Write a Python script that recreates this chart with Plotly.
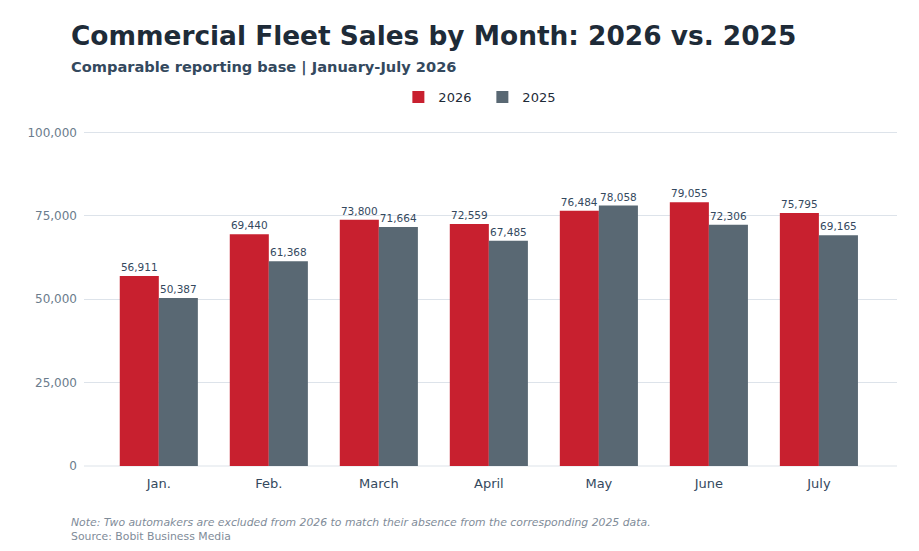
import plotly.graph_objects as go

months = ["Jan.", "Feb.", "March", "April", "May", "June", "July"]
sales_2026 = [56911, 69440, 73800, 72559, 76484, 79055, 75795]
sales_2025 = [50387, 61368, 71664, 67485, 78058, 72306, 69165]

RED = "#C8202F"
GRAY = "#596873"
FONT = "DejaVu Sans"

fig = go.Figure()
for name, vals, color in [("2026", sales_2026, RED), ("2025", sales_2025, GRAY)]:
    fig.add_trace(go.Bar(
        x=months, y=vals, name=name, marker=dict(color=color, line=dict(width=0)),
        text=[f"{v:,}" for v in vals], textposition="outside",
        textfont=dict(size=10.5, color="#34495e", family=FONT),
        cliponaxis=False,
    ))

fig.update_layout(
    width=919, height=551,
    font=dict(family=FONT, color="#2c3e50"),
    paper_bgcolor="white", plot_bgcolor="white",
    margin=dict(l=76, r=30, t=121, b=93, autoexpand=False),
    barmode="group", bargap=0.29, bargroupgap=0,
    legend=dict(orientation="h", x=0.490, xanchor="center", y=1 + (121 - 89) / 337,
                yanchor="middle", font=dict(size=13, color="#1e2b38"), entrywidth=39),
    xaxis=dict(range=[-0.68, 6.71], tickfont=dict(size=13, color="#34495e"),
               showline=False, automargin=False, ticklabelstandoff=8),
    yaxis=dict(range=[0, 101000], tickvals=[0, 25000, 50000, 75000, 100000],
               tickformat=",", tickfont=dict(size=12, color="#6b7c8c"),
               gridcolor="#dde3ea", zeroline=True, zerolinecolor="#eef1f4",
               ticklabelstandoff=6, automargin=False),
    title=dict(text="<b>Commercial Fleet Sales by Month: 2026 vs. 2025</b>",
               x=63 / 919, xanchor="left", y=1 - 28 / 551, yanchor="middle",
               font=dict(size=26.4, color="#1e2b38")),
)
fig.add_annotation(text="<b>Comparable reporting base | January-July 2026</b>",
                   xref="paper", yref="paper", x=-15 / 813, xanchor="left",
                   y=1 + (121 - 59) / 337, yanchor="middle", showarrow=False,
                   font=dict(size=14.6, color="#34495e"))
fig.add_annotation(text="<i>Note: Two automakers are excluded from 2026 to match their absence from the corresponding 2025 data.</i><br>Source: Bobit Business Media",
                   xref="paper", yref="paper", x=-15 / 813, xanchor="left",
                   y=-(521 - 458) / 337, yanchor="middle", showarrow=False, align="left",
                   font=dict(size=10.85, color="#7f8c99"))

fig.write_html("out.html")
